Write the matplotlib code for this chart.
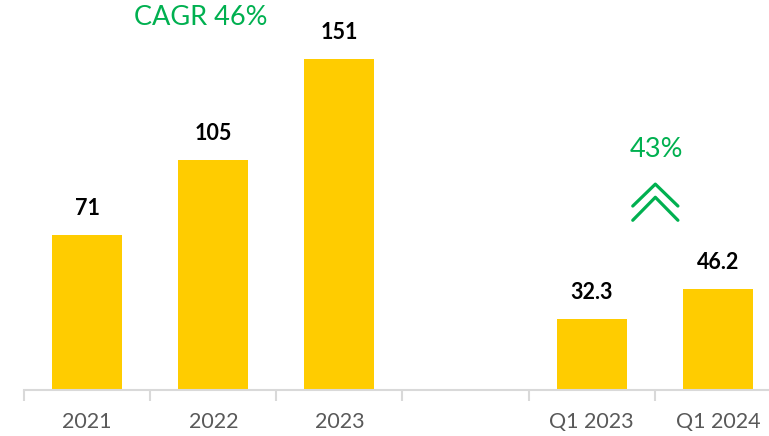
import matplotlib.pyplot as plt
import numpy as np

plt.rcParams['font.family'] = ['Lato', 'DejaVu Sans']

categories = ['2021', '2022', '2023', '', 'Q1 2023', 'Q1 2024']
values = [71, 105, 151, None, 32.3, 46.2]
value_labels = ['71', '105', '151', '', '32.3', '46.2']
cagr_text = 'CAGR 46%'
growth_text = '43%'

bar_color = '#FFCC00'
green = '#00B050'
axis_color = '#D9D9D9'

fig = plt.figure(figsize=(7.69, 4.36), dpi=100)
# axes runs a bit past the right edge, like the original crop
ax = fig.add_axes([24 / 769, 46 / 436, 757 / 769, 180 * 2.19 / 436])

x = np.arange(len(categories))
heights = [v if v is not None else 0 for v in values]
bars = ax.bar(x, heights, width=0.556, color=bar_color, zorder=2)

for xi, v, lab in zip(x, values, value_labels):
    if v is None:
        continue
    ax.annotate(lab, (xi, v), xytext=(0, 19), textcoords='offset points',
                ha='center', va='center', fontsize=15.5, fontweight='bold', color='black')

ax.set_xlim(-0.5, len(categories) - 0.5)
ax.set_ylim(0, 180)

ax.set_xticks(x)
ax.set_xticklabels(categories, fontsize=15.5, color='#595959')
ax.tick_params(axis='x', which='major', length=0, pad=16)
ax.set_xticks(np.arange(-0.5, len(categories), 1), minor=True)
ax.tick_params(axis='x', which='minor', length=8, width=1.5, color=axis_color)
ax.set_yticks([])

for s in ['top', 'right', 'left']:
    ax.spines[s].set_visible(False)
ax.spines['bottom'].set_color(axis_color)
ax.spines['bottom'].set_linewidth(1.5)

# annotations
ax.text(0.9, 170, cagr_text, ha='center', va='center', fontsize=19.5, color=green)

mid = (x[4] + x[5]) / 2 + 0.004
ax.text(mid + 0.01, 110, growth_text, ha='center', va='center', fontsize=19.5, color=green)
hw = 0.179
for apex, drop in [(94.0, 10.0), (88.0, 10.5)]:
    ax.plot([mid - hw, mid, mid + hw], [apex - drop, apex, apex - drop],
            color=green, linewidth=2.3, solid_capstyle='round', solid_joinstyle='round',
            clip_on=False)

fig.savefig('out.png', dpi=100)
